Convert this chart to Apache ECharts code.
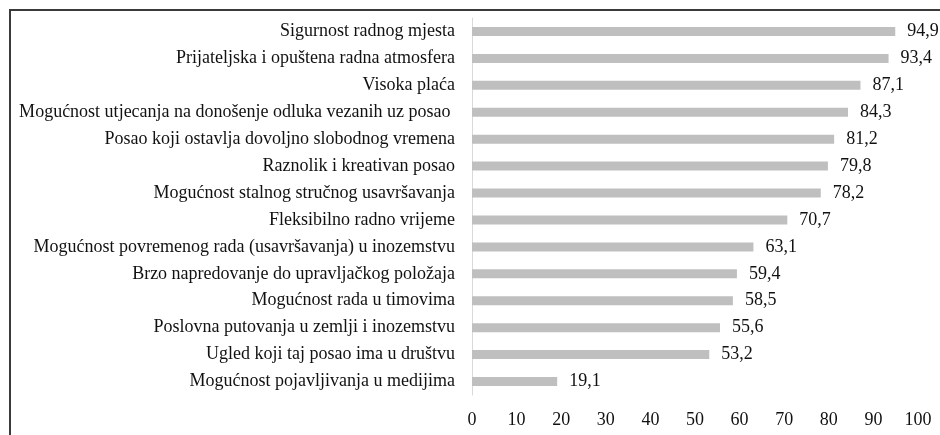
<!DOCTYPE html>
<html>
<head>
<meta charset="utf-8">
<script src="https://cdn.jsdelivr.net/npm/echarts@6/dist/echarts.min.js"></script>
<style>
  html, body { margin: 0; padding: 0; background: #fff; }
  #chart { width: 940px; height: 435px; }
</style>
</head>
<body>
<div id="chart"></div>
<script>
// kategorije odozgo prema dolje
const categories = [
  "Sigurnost radnog mjesta",
  "Prijateljska i opuštena radna atmosfera",
  "Visoka plaća",
  "Mogućnost utjecanja na donošenje odluka vezanih uz posao ",
  "Posao koji ostavlja dovoljno slobodnog vremena",
  "Raznolik i kreativan posao",
  "Mogućnost stalnog stručnog usavršavanja",
  "Fleksibilno radno vrijeme",
  "Mogućnost povremenog rada (usavršavanja) u inozemstvu",
  "Brzo napredovanje do upravljačkog položaja",
  "Mogućnost rada u timovima",
  "Poslovna putovanja u zemlji i inozemstvu",
  "Ugled koji taj posao ima u društvu",
  "Mogućnost pojavljivanja u medijima",
]
const values = [94.9, 93.4, 87.1, 84.3, 81.2, 79.8, 78.2, 70.7, 63.1, 59.4, 58.5, 55.6, 53.2, 19.1]

const font = "'Liberation Serif', 'Times New Roman', serif"
const chart = echarts.init(document.getElementById("chart"))

const option = {
  animation: false,
  textStyle: { fontFamily: font },
  // okvir slike
  graphic: [
    {
      type: "rect",
      shape: { x: 10, y: 10, width: 1000, height: 1000 },
      style: { fill: "none", stroke: "#3a3a3a", lineWidth: 2 },
      silent: true,
    },
  ],
  grid: { left: 472, right: 22, top: 18, bottom: 40 },
  xAxis: {
    type: "value",
    min: 0,
    max: 100,
    interval: 10,
    axisLine: { show: false },
    axisTick: { show: false },
    splitLine: { show: false },
    axisLabel: { color: "#111", fontSize: 18, fontFamily: font, margin: 16 },
  },
  yAxis: {
    type: "category",
    inverse: true,
    data: categories,
    axisLine: { show: true, lineStyle: { color: "#d9d9d9", width: 1 } },
    axisTick: { show: false },
    axisLabel: { color: "#111", fontSize: 18, fontFamily: font, margin: 17 },
  },
  series: [
    {
      type: "bar",
      data: values,
      barWidth: 9,
      itemStyle: { color: "#bfbfbf" },
      label: {
        show: true,
        position: "right",
        distance: 12,
        color: "#111",
        fontSize: 18,
        fontFamily: font,
        formatter: (p) => p.value.toFixed(1).replace(".", ","),
      },
    },
  ],
}

chart.setOption(option)
</script>
</body>
</html>
